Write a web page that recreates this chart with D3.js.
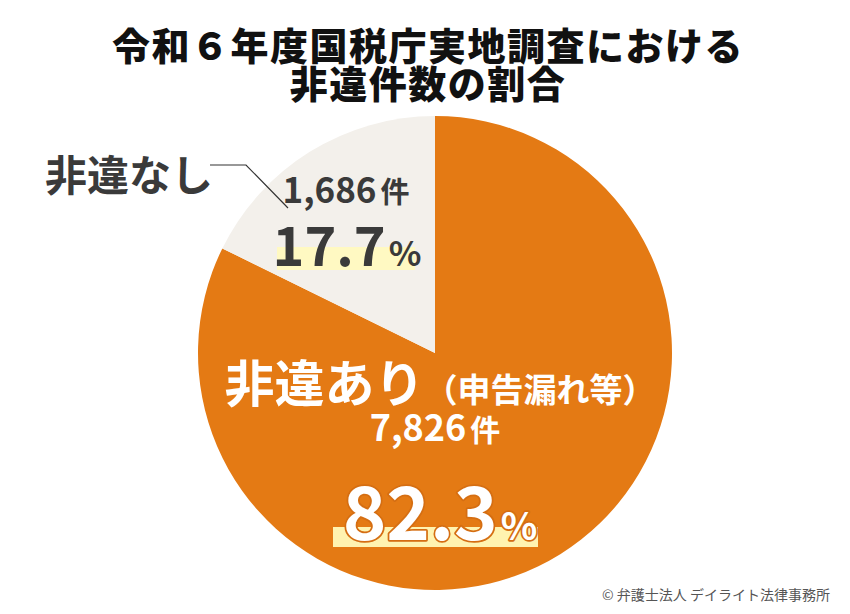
<!DOCTYPE html>
<html><head><meta charset="utf-8">
<script src="https://cdn.jsdelivr.net/npm/d3@7"></script>
<style>
html,body{margin:0;padding:0;background:#fff;}
svg{display:block;}
text{font-family:"Noto Sans CJK JP","Noto Sans",sans-serif;}
</style></head>
<body>
<svg id="chart" width="850" height="614"></svg>
<script>
const titleLines = ["令和６年度国税庁実地調査における", "非違件数の割合"];
const categories = ["非違あり", "非違なし"];
const subLabels = ["（申告漏れ等）", ""];
const counts = [7826, 1686];
const percents = [82.3, 17.7];
const colors = ["#E47A14", "#F3F0EB"];
const credit = "© 弁護士法人 デイライト法律事務所";

const svg = d3.select("#chart");
const W = 850, H = 614;
const cx = 435, cy = 353, R = 237;

// title
svg.selectAll("text.title").data(titleLines).join("text")
  .attr("class","title")
  .attr("x", W/2 + 3).attr("y", (d,i)=> 43 + i*38)
  .attr("text-anchor","middle").attr("dominant-baseline","central")
  .attr("font-size", 38).attr("font-weight", 900).attr("fill","#111")
  .attr("letter-spacing", 1.5)
  .text(d=>d);

const data = categories.map((c,i)=>({cat:c, count:counts[i], pct:percents[i], color:colors[i]}));
const pie = d3.pie().sort(null).value(d=>d.count).startAngle(0).endAngle(2*Math.PI);
const arc = d3.arc().innerRadius(0).outerRadius(R);
const arcs = pie(data);

const g = svg.append("g").attr("transform",`translate(${cx},${cy})`);
g.selectAll("path").data(arcs).join("path")
  .attr("d", arc).attr("fill", d=>d.data.color);

const fmt = d3.format(",");

// ---- 非違なし slice labels ----
const a1 = arcs[1];
svg.append("text").attr("x", 45).attr("y", 172)
  .attr("dominant-baseline","central")
  .attr("font-size", 42).attr("font-weight", 700).attr("fill","#3a3a3a")
  .text(a1.data.cat);
svg.append("polyline")
  .attr("points", "210,165 246,165 288,208")
  .attr("fill","none").attr("stroke","#333").attr("stroke-width",1.2);

const t1 = svg.append("text").attr("x", 346).attr("y", 203)
  .attr("text-anchor","middle").attr("fill","#3a3a3a").attr("font-weight",700);
t1.append("tspan").attr("font-size",35).text(fmt(a1.data.count));
t1.append("tspan").attr("font-size",29).attr("dx",4).text("件");

svg.append("rect").attr("x",277).attr("y",247).attr("width",138).attr("height",23).attr("fill","#FFF9C2");
const p1 = svg.append("text").attr("x", 347).attr("y", 266)
  .attr("text-anchor","middle").attr("fill","#3a3a3a").attr("font-weight",700);
p1.append("tspan").attr("font-size",54).text(a1.data.pct.toFixed(1));
p1.append("tspan").attr("font-size",34).attr("dx",3).text("%");

// ---- 非違あり slice labels ----
const a0 = arcs[0];
const n0 = svg.append("text").attr("x", 440).attr("y", 402)
  .attr("text-anchor","middle").attr("fill","#fff").attr("font-weight",700);
n0.append("tspan").attr("font-size",50).text(a0.data.cat);
n0.append("tspan").attr("font-size",33).text(subLabels[0]);

const c0 = svg.append("text").attr("x", 435).attr("y", 441)
  .attr("text-anchor","middle").attr("fill","#fff").attr("font-weight",700);
c0.append("tspan").attr("font-size",36).text(fmt(a0.data.count));
c0.append("tspan").attr("font-size",30).attr("dx",4).text("件");

svg.append("rect").attr("x",333).attr("y",527).attr("width",205).attr("height",20).attr("fill","#FFF3B0");
const p0 = svg.append("text").attr("x", 440).attr("y", 540)
  .attr("text-anchor","middle").attr("fill","#fff").attr("font-weight",700)
  .attr("stroke","#D56E12").attr("stroke-width",3.5).attr("paint-order","stroke")
  .attr("stroke-linejoin","round");
p0.append("tspan").attr("font-size",74).text(a0.data.pct.toFixed(1));
p0.append("tspan").attr("font-size",38).attr("dx",3).text("%");

svg.append("text").attr("x", 830).attr("y", 600)
  .attr("text-anchor","end").attr("font-size",14).attr("fill","#555")
  .text(credit);
</script>
</body></html>
